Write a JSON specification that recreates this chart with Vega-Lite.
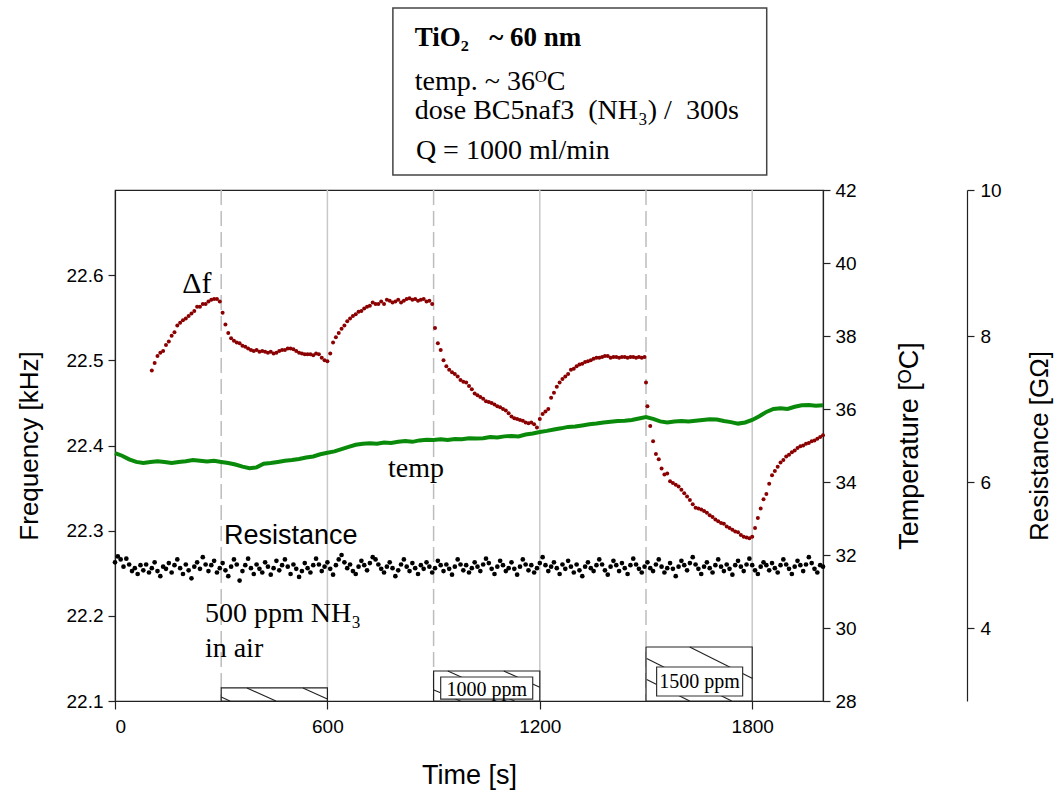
{
"$schema": "https://vega.github.io/schema/vega-lite/v6.json",
"width": 708, "height": 511,
"autosize": {"type": "none"},
"padding": {"left": 115, "top": 190, "right": 237, "bottom": 90},
"background": "white",
"config": {
  "view": {"stroke": "#222", "strokeWidth": 1.2},
  "axis": {"grid": false, "domainColor": "#222", "tickColor": "#222", "labelColor": "#000", "titleColor": "#000", "labelFont": "Liberation Sans", "titleFont": "Liberation Sans", "labelFontSize": 19, "titleFontSize": 26, "titleFontWeight": "normal", "tickSize": 7, "domainWidth": 1.2, "tickWidth": 1.2}
},
"datasets": {
  "gridSolid": [{"t": 600}, {"t": 1200}, {"t": 1800}],
  "gridDash": [{"t": 300}, {"t": 900}, {"t": 1500}],
  "boxes": [{"t": 300, "t2": 600, "f": 22.1, "f2": 22.1153}, {"t": 900, "t2": 1200, "f": 22.1, "f2": 22.1352}, {"t": 1500, "t2": 1800, "f": 22.1, "f2": 22.1634}],
  "hatch": [
    {"t": 300, "f": 22.1047, "t2": 324.7, "f2": 22.1}, {"t": 372.7, "f": 22.1153, "t2": 454.6, "f2": 22.1}, {"t": 530.8, "f": 22.1153, "t2": 600, "f2": 22.1023},
    {"t": 900.6, "f": 22.113, "t2": 976, "f2": 22.1}, {"t": 940.2, "f": 22.1352, "t2": 1128.5, "f2": 22.1}, {"t": 1098.3, "f": 22.1352, "t2": 1200, "f2": 22.1162},
    {"t": 1502, "f": 22.1252, "t2": 1623.4, "f2": 22.1}, {"t": 1502, "f": 22.1499, "t2": 1742, "f2": 22.1}, {"t": 1623.4, "f": 22.1634, "t2": 1801, "f2": 22.1264}
  ],
  "labelBoxes": [{"t": 920, "t2": 1180, "f": 22.1023, "f2": 22.1282}, {"t": 1530, "t2": 1773, "f": 22.1059, "f2": 22.1399}],
  "labelTexts": [{"t": 1050, "f": 22.1059, "txt": "1000 ppm"}, {"t": 1651, "f": 22.1153, "txt": "1500 ppm"}],
  "deltaNote": [{"t": 190, "f": 22.579, "txt": "Δf"}],
  "serifNotes": [{"t": 771, "f": 22.363, "txt": "temp"}, {"t": 254, "f": 22.1928, "txt": "500 ppm NH₃"}, {"t": 254, "f": 22.1517, "txt": "in air"}],
  "sansNotes": [{"t": 308, "f": 22.2843, "txt": "Resistance"}],
  "topBox": [{"t": 785, "t2": 1841, "f": 22.7176, "f2": 22.9137}],
  "topBold": [{"t": 847, "f": 22.869, "txt": "TiO₂\u00a0\u00a0\u00a0~ 60 nm"}],
  "topText": [{"t": 847, "f": 22.8174, "txt": "temp. ~ 36ᴼC"}, {"t": 847, "f": 22.7833, "txt": "dose BC5naf3\u00a0\u00a0(NH₃) /\u00a0\u00a0300s"}, {"t": 850, "f": 22.7364, "txt": "Q = 1000 ml/min"}],
  "df": [
    {"t":104,"f":22.488},{"t":112,"f":22.497},{"t":120,"f":22.505},{"t":128,"f":22.509},{"t":136,"f":22.511},{"t":144,"f":22.518},{"t":152,"f":22.522},{"t":160,"f":22.529},{"t":168,"f":22.533},{"t":176,"f":22.541},{"t":184,"f":22.544},{"t":192,"f":22.547},{"t":200,"f":22.549},{"t":208,"f":22.552},{"t":216,"f":22.555},{"t":224,"f":22.558},{"t":232,"f":22.563},{"t":240,"f":22.563},{"t":248,"f":22.566},{"t":256,"f":22.566},{"t":264,"f":22.569},{"t":272,"f":22.571},{"t":280,"f":22.572},{"t":288,"f":22.572},{"t":296,"f":22.569},
    {"t":304,"f":22.556},{"t":312,"f":22.542},{"t":320,"f":22.532},{"t":328,"f":22.526},{"t":336,"f":22.523},{"t":344,"f":22.521},{"t":352,"f":22.52},{"t":360,"f":22.517},{"t":368,"f":22.516},{"t":376,"f":22.514},{"t":384,"f":22.512},{"t":392,"f":22.511},{"t":400,"f":22.512},{"t":408,"f":22.51},{"t":416,"f":22.511},{"t":424,"f":22.51},{"t":432,"f":22.509},{"t":440,"f":22.51},{"t":448,"f":22.508},{"t":456,"f":22.509},{"t":464,"f":22.511},{"t":472,"f":22.512},{"t":480,"f":22.512},{"t":488,"f":22.514},{"t":496,"f":22.514},{"t":504,"f":22.513},{"t":512,"f":22.511},{"t":520,"f":22.509},{"t":528,"f":22.508},{"t":536,"f":22.507},{"t":544,"f":22.507},{"t":552,"f":22.507},{"t":560,"f":22.506},{"t":568,"f":22.508},{"t":576,"f":22.507},{"t":584,"f":22.503},{"t":592,"f":22.5},{"t":600,"f":22.499},
    {"t":608,"f":22.508},{"t":616,"f":22.521},{"t":624,"f":22.527},{"t":632,"f":22.532},{"t":640,"f":22.537},{"t":648,"f":22.541},{"t":656,"f":22.546},{"t":664,"f":22.549},{"t":672,"f":22.552},{"t":680,"f":22.554},{"t":688,"f":22.557},{"t":696,"f":22.558},{"t":704,"f":22.561},{"t":712,"f":22.563},{"t":720,"f":22.564},{"t":728,"f":22.568},{"t":736,"f":22.566},{"t":744,"f":22.566},{"t":752,"f":22.569},{"t":760,"f":22.566},{"t":768,"f":22.571},{"t":776,"f":22.57},{"t":784,"f":22.568},{"t":792,"f":22.569},{"t":800,"f":22.571},{"t":808,"f":22.568},{"t":816,"f":22.57},{"t":824,"f":22.572},{"t":832,"f":22.573},{"t":840,"f":22.571},{"t":848,"f":22.572},{"t":856,"f":22.57},{"t":864,"f":22.571},{"t":872,"f":22.572},{"t":880,"f":22.569},{"t":888,"f":22.57},{"t":896,"f":22.566},
    {"t":904,"f":22.538},{"t":912,"f":22.52},{"t":920,"f":22.512},{"t":928,"f":22.5},{"t":936,"f":22.493},{"t":944,"f":22.489},{"t":952,"f":22.486},{"t":960,"f":22.484},{"t":968,"f":22.481},{"t":976,"f":22.477},{"t":984,"f":22.475},{"t":992,"f":22.474},{"t":1000,"f":22.47},{"t":1008,"f":22.466},{"t":1016,"f":22.461},{"t":1024,"f":22.459},{"t":1032,"f":22.457},{"t":1040,"f":22.455},{"t":1048,"f":22.452},{"t":1056,"f":22.451},{"t":1064,"f":22.45},{"t":1072,"f":22.448},{"t":1080,"f":22.446},{"t":1088,"f":22.445},{"t":1096,"f":22.443},{"t":1104,"f":22.441},{"t":1112,"f":22.438},{"t":1120,"f":22.434},{"t":1128,"f":22.432},{"t":1136,"f":22.431},{"t":1144,"f":22.43},{"t":1152,"f":22.429},{"t":1160,"f":22.427},{"t":1168,"f":22.426},{"t":1176,"f":22.427},{"t":1184,"f":22.425},{"t":1192,"f":22.421},
    {"t":1200,"f":22.431},{"t":1208,"f":22.437},{"t":1216,"f":22.44},{"t":1224,"f":22.443},{"t":1232,"f":22.456},{"t":1240,"f":22.462},{"t":1248,"f":22.469},{"t":1256,"f":22.474},{"t":1264,"f":22.478},{"t":1272,"f":22.481},{"t":1280,"f":22.484},{"t":1288,"f":22.489},{"t":1296,"f":22.49},{"t":1304,"f":22.493},{"t":1312,"f":22.495},{"t":1320,"f":22.496},{"t":1328,"f":22.498},{"t":1336,"f":22.499},{"t":1344,"f":22.5},{"t":1352,"f":22.502},{"t":1360,"f":22.503},{"t":1368,"f":22.503},{"t":1376,"f":22.504},{"t":1384,"f":22.505},{"t":1392,"f":22.505},{"t":1400,"f":22.503},{"t":1408,"f":22.504},{"t":1416,"f":22.504},{"t":1424,"f":22.503},{"t":1432,"f":22.504},{"t":1440,"f":22.504},{"t":1448,"f":22.503},{"t":1456,"f":22.504},{"t":1464,"f":22.504},{"t":1472,"f":22.503},{"t":1480,"f":22.504},{"t":1488,"f":22.503},{"t":1496,"f":22.504},
    {"t":1500,"f":22.474},{"t":1504,"f":22.446},{"t":1512,"f":22.423},{"t":1520,"f":22.405},{"t":1528,"f":22.39},{"t":1536,"f":22.384},{"t":1544,"f":22.373},{"t":1552,"f":22.366},{"t":1560,"f":22.367},{"t":1568,"f":22.358},{"t":1576,"f":22.356},{"t":1584,"f":22.354},{"t":1592,"f":22.352},{"t":1600,"f":22.348},{"t":1608,"f":22.344},{"t":1616,"f":22.34},{"t":1624,"f":22.336},{"t":1632,"f":22.331},{"t":1640,"f":22.327},{"t":1648,"f":22.326},{"t":1656,"f":22.325},{"t":1664,"f":22.323},{"t":1672,"f":22.321},{"t":1680,"f":22.318},{"t":1688,"f":22.316},{"t":1696,"f":22.313},{"t":1704,"f":22.311},{"t":1712,"f":22.309},{"t":1720,"f":22.308},{"t":1728,"f":22.305},{"t":1736,"f":22.303},{"t":1744,"f":22.301},{"t":1752,"f":22.299},{"t":1760,"f":22.298},{"t":1768,"f":22.295},{"t":1776,"f":22.293},{"t":1784,"f":22.292},{"t":1792,"f":22.291},{"t":1800,"f":22.293},
    {"t":1808,"f":22.303},{"t":1816,"f":22.315},{"t":1824,"f":22.326},{"t":1832,"f":22.337},{"t":1840,"f":22.343},{"t":1848,"f":22.355},{"t":1856,"f":22.365},{"t":1864,"f":22.37},{"t":1872,"f":22.375},{"t":1880,"f":22.38},{"t":1888,"f":22.383},{"t":1896,"f":22.387},{"t":1904,"f":22.389},{"t":1912,"f":22.392},{"t":1920,"f":22.394},{"t":1928,"f":22.397},{"t":1936,"f":22.399},{"t":1944,"f":22.4},{"t":1952,"f":22.402},{"t":1960,"f":22.403},{"t":1968,"f":22.405},{"t":1976,"f":22.406},{"t":1984,"f":22.408},{"t":1992,"f":22.41},{"t":2000,"f":22.412}
  ],
  "temp": [
    {"t":0,"T":34.79},{"t":20,"T":34.72},{"t":40,"T":34.62},{"t":60,"T":34.55},{"t":80,"T":34.52},{"t":100,"T":34.55},{"t":120,"T":34.57},{"t":140,"T":34.55},{"t":160,"T":34.52},{"t":180,"T":34.55},{"t":200,"T":34.57},{"t":220,"T":34.6},{"t":240,"T":34.58},{"t":260,"T":34.56},{"t":280,"T":34.58},{"t":300,"T":34.55},{"t":320,"T":34.52},{"t":340,"T":34.48},{"t":360,"T":34.42},{"t":380,"T":34.38},{"t":400,"T":34.4},{"t":420,"T":34.5},{"t":440,"T":34.52},{"t":460,"T":34.55},{"t":480,"T":34.58},{"t":500,"T":34.6},{"t":520,"T":34.63},{"t":540,"T":34.67},{"t":560,"T":34.7},{"t":580,"T":34.76},{"t":600,"T":34.8},{"t":620,"T":34.84},{"t":640,"T":34.9},{"t":660,"T":34.96},{"t":680,"T":35.02},{"t":700,"T":35.05},{"t":720,"T":35.06},{"t":740,"T":35.05},{"t":760,"T":35.08},{"t":780,"T":35.07},{"t":800,"T":35.1},{"t":820,"T":35.12},{"t":840,"T":35.1},{"t":860,"T":35.14},{"t":880,"T":35.16},{"t":900,"T":35.15},{"t":920,"T":35.17},{"t":940,"T":35.15},{"t":960,"T":35.18},{"t":980,"T":35.17},{"t":1000,"T":35.2},{"t":1020,"T":35.19},{"t":1040,"T":35.2},{"t":1060,"T":35.23},{"t":1080,"T":35.22},{"t":1100,"T":35.25},{"t":1120,"T":35.26},{"t":1140,"T":35.25},{"t":1160,"T":35.3},{"t":1180,"T":35.33},{"t":1200,"T":35.37},{"t":1220,"T":35.4},{"t":1240,"T":35.44},{"t":1260,"T":35.47},{"t":1280,"T":35.51},{"t":1300,"T":35.52},{"t":1320,"T":35.55},{"t":1340,"T":35.58},{"t":1360,"T":35.6},{"t":1380,"T":35.63},{"t":1400,"T":35.65},{"t":1420,"T":35.67},{"t":1440,"T":35.68},{"t":1460,"T":35.7},{"t":1480,"T":35.74},{"t":1500,"T":35.78},{"t":1520,"T":35.73},{"t":1540,"T":35.66},{"t":1560,"T":35.63},{"t":1580,"T":35.66},{"t":1600,"T":35.67},{"t":1620,"T":35.66},{"t":1640,"T":35.68},{"t":1660,"T":35.7},{"t":1680,"T":35.72},{"t":1700,"T":35.71},{"t":1720,"T":35.67},{"t":1740,"T":35.64},{"t":1760,"T":35.6},{"t":1780,"T":35.63},{"t":1800,"T":35.7},{"t":1820,"T":35.8},{"t":1840,"T":35.92},{"t":1860,"T":36.0},{"t":1880,"T":36.02},{"t":1900,"T":36.0},{"t":1920,"T":36.06},{"t":1940,"T":36.1},{"t":1960,"T":36.11},{"t":1980,"T":36.09},{"t":2000,"T":36.1}
  ],
  "res": [
    {"t":0,"r":4.90},{"t":8,"r":4.98},{"t":16,"r":4.94},{"t":24,"r":4.84},{"t":32,"r":4.95},{"t":40,"r":4.87},{"t":48,"r":4.78},{"t":56,"r":4.82},{"t":64,"r":4.74},{"t":72,"r":4.86},
    {"t":80,"r":4.79},{"t":88,"r":4.87},{"t":96,"r":4.76},{"t":104,"r":4.82},{"t":112,"r":4.90},{"t":120,"r":4.78},{"t":128,"r":4.71},{"t":136,"r":4.84},{"t":144,"r":4.81},{"t":152,"r":4.89},
    {"t":160,"r":4.76},{"t":168,"r":4.86},{"t":176,"r":4.94},{"t":184,"r":4.82},{"t":192,"r":4.74},{"t":200,"r":4.87},{"t":208,"r":4.79},{"t":216,"r":4.68},{"t":224,"r":4.84},{"t":232,"r":4.90},
    {"t":240,"r":4.81},{"t":248,"r":4.97},{"t":256,"r":4.87},{"t":264,"r":4.78},{"t":272,"r":4.86},{"t":280,"r":4.92},{"t":288,"r":4.76},{"t":296,"r":4.82},{"t":304,"r":4.89},{"t":312,"r":4.79},
    {"t":320,"r":4.71},{"t":328,"r":4.84},{"t":336,"r":4.94},{"t":344,"r":4.87},{"t":352,"r":4.65},{"t":360,"r":4.78},{"t":368,"r":4.86},{"t":376,"r":4.95},{"t":384,"r":4.82},{"t":392,"r":4.74},
    {"t":400,"r":4.87},{"t":408,"r":4.81},{"t":416,"r":4.76},{"t":424,"r":4.90},{"t":432,"r":4.84},{"t":440,"r":4.73},{"t":448,"r":4.82},{"t":456,"r":4.92},{"t":464,"r":4.79},{"t":472,"r":4.86},
    {"t":480,"r":4.94},{"t":488,"r":4.84},{"t":496,"r":4.74},{"t":504,"r":4.87},{"t":512,"r":4.81},{"t":520,"r":4.70},{"t":528,"r":4.78},{"t":536,"r":4.89},{"t":544,"r":4.82},{"t":552,"r":4.76},
    {"t":560,"r":4.86},{"t":568,"r":4.95},{"t":576,"r":4.87},{"t":584,"r":4.78},{"t":592,"r":4.84},{"t":600,"r":4.90},{"t":608,"r":4.81},{"t":616,"r":4.73},{"t":624,"r":4.86},{"t":632,"r":4.94},
    {"t":640,"r":5.0},{"t":648,"r":4.90},{"t":656,"r":4.82},{"t":664,"r":4.87},{"t":672,"r":4.78},{"t":680,"r":4.74},{"t":688,"r":4.84},{"t":696,"r":4.92},{"t":704,"r":4.86},{"t":712,"r":4.79},
    {"t":720,"r":4.89},{"t":728,"r":4.97},{"t":736,"r":4.94},{"t":744,"r":4.87},{"t":752,"r":4.81},{"t":760,"r":4.76},{"t":768,"r":4.84},{"t":776,"r":4.90},{"t":784,"r":4.82},{"t":792,"r":4.71},
    {"t":800,"r":4.79},{"t":808,"r":4.87},{"t":816,"r":4.94},{"t":824,"r":4.84},{"t":832,"r":4.78},{"t":840,"r":4.89},{"t":848,"r":4.82},{"t":856,"r":4.74},{"t":864,"r":4.86},{"t":872,"r":4.81},
    {"t":880,"r":4.90},{"t":888,"r":4.84},{"t":896,"r":4.76},{"t":904,"r":4.82},{"t":912,"r":4.92},{"t":920,"r":4.86},{"t":928,"r":4.78},{"t":936,"r":4.87},{"t":944,"r":4.81},{"t":952,"r":4.73},
    {"t":960,"r":4.84},{"t":968,"r":4.94},{"t":976,"r":4.87},{"t":984,"r":4.79},{"t":992,"r":4.86},{"t":1000,"r":4.76},{"t":1008,"r":4.82},{"t":1016,"r":4.90},{"t":1024,"r":4.84},{"t":1032,"r":4.78},
    {"t":1040,"r":4.87},{"t":1048,"r":4.95},{"t":1056,"r":4.89},{"t":1064,"r":4.81},{"t":1072,"r":4.74},{"t":1080,"r":4.84},{"t":1088,"r":4.92},{"t":1096,"r":4.86},{"t":1104,"r":4.78},{"t":1112,"r":4.82},
    {"t":1120,"r":4.90},{"t":1128,"r":4.81},{"t":1136,"r":4.73},{"t":1144,"r":4.84},{"t":1152,"r":4.94},{"t":1160,"r":4.87},{"t":1168,"r":4.79},{"t":1176,"r":4.86},{"t":1184,"r":4.76},{"t":1192,"r":4.82},
    {"t":1200,"r":4.89},{"t":1208,"r":4.97},{"t":1216,"r":4.86},{"t":1224,"r":4.78},{"t":1232,"r":4.84},{"t":1240,"r":4.90},{"t":1248,"r":4.82},{"t":1256,"r":4.74},{"t":1264,"r":4.87},{"t":1272,"r":4.81},
    {"t":1280,"r":4.92},{"t":1288,"r":4.84},{"t":1296,"r":4.76},{"t":1304,"r":4.87},{"t":1312,"r":4.79},{"t":1320,"r":4.71},{"t":1328,"r":4.84},{"t":1336,"r":4.90},{"t":1344,"r":4.82},{"t":1352,"r":4.78},
    {"t":1360,"r":4.86},{"t":1368,"r":4.94},{"t":1376,"r":4.87},{"t":1384,"r":4.79},{"t":1392,"r":4.73},{"t":1400,"r":4.84},{"t":1408,"r":4.92},{"t":1416,"r":4.86},{"t":1424,"r":4.78},{"t":1432,"r":4.89},
    {"t":1440,"r":4.82},{"t":1448,"r":4.74},{"t":1456,"r":4.86},{"t":1464,"r":4.95},{"t":1472,"r":4.87},{"t":1480,"r":4.81},{"t":1488,"r":4.76},{"t":1496,"r":4.84},{"t":1504,"r":4.90},{"t":1512,"r":4.82},
    {"t":1520,"r":4.78},{"t":1528,"r":4.87},{"t":1536,"r":4.94},{"t":1544,"r":4.84},{"t":1552,"r":4.76},{"t":1560,"r":4.82},{"t":1568,"r":4.89},{"t":1576,"r":4.81},{"t":1584,"r":4.71},{"t":1592,"r":4.84},
    {"t":1600,"r":4.92},{"t":1608,"r":4.86},{"t":1616,"r":4.79},{"t":1624,"r":4.89},{"t":1632,"r":4.97},{"t":1640,"r":4.87},{"t":1648,"r":4.81},{"t":1656,"r":4.74},{"t":1664,"r":4.84},{"t":1672,"r":4.90},
    {"t":1680,"r":4.82},{"t":1688,"r":4.76},{"t":1696,"r":4.86},{"t":1704,"r":4.94},{"t":1712,"r":4.84},{"t":1720,"r":4.78},{"t":1728,"r":4.87},{"t":1736,"r":4.81},{"t":1744,"r":4.73},{"t":1752,"r":4.86},
    {"t":1760,"r":4.92},{"t":1768,"r":4.84},{"t":1776,"r":4.78},{"t":1784,"r":4.87},{"t":1792,"r":4.95},{"t":1800,"r":4.86},{"t":1808,"r":4.79},{"t":1816,"r":4.74},{"t":1824,"r":4.84},{"t":1832,"r":4.90},
    {"t":1840,"r":4.86},{"t":1848,"r":4.79},{"t":1856,"r":4.89},{"t":1864,"r":4.82},{"t":1872,"r":4.76},{"t":1880,"r":4.86},{"t":1888,"r":4.94},{"t":1896,"r":4.87},{"t":1904,"r":4.81},{"t":1912,"r":4.74},
    {"t":1920,"r":4.84},{"t":1928,"r":4.92},{"t":1936,"r":4.86},{"t":1944,"r":4.78},{"t":1952,"r":4.87},{"t":1960,"r":4.97},{"t":1968,"r":4.89},{"t":1976,"r":4.81},{"t":1984,"r":4.76},{"t":1992,"r":4.86},{"t":2000,"r":4.84}
  ]
},
"encoding": {
  "x": {"field": "t", "type": "quantitative", "scale": {"domain": [0, 2000], "nice": false, "zero": false}, "axis": {"values": [0, 600, 1200, 1800], "format": "d", "title": "Time [s]", "titleFontSize": 27, "tickSize": 8, "labelPadding": 8, "titlePadding": 26}}
},
"layer": [
  {"data": {"name": "gridSolid"}, "mark": {"type": "rule", "color": "#c8c8c8", "strokeWidth": 1.5}, "encoding": {}},
  {"data": {"name": "gridDash"}, "mark": {"type": "rule", "color": "#bdbdbd", "strokeWidth": 1.5, "strokeDash": [15, 6]}, "encoding": {}},
  {"data": {"name": "temp"}, "mark": {"type": "line", "color": "#0a8a0a", "strokeWidth": 4},
   "encoding": {"y": {"field": "T", "type": "quantitative", "scale": {"domain": [28, 42], "nice": false, "zero": false},
     "axis": {"orient": "right", "values": [28, 30, 32, 34, 36, 38, 40, 42], "title": "Temperature [ᴼC]", "titleFontSize": 27, "titleAngle": 270, "titleBaseline": "top", "labelPadding": 5, "titlePadding": 40}}}},
  {"data": {"name": "res"}, "mark": {"type": "point", "filled": true, "color": "black", "size": 22, "opacity": 1},
   "encoding": {"y": {"field": "r", "type": "quantitative", "scale": {"domain": [3, 10], "nice": false, "zero": false},
     "axis": {"orient": "right", "offset": 144, "values": [4, 6, 8, 10], "title": "Resistance [GΩ]", "titleAngle": 270, "titleBaseline": "top", "labelPadding": 6, "titlePadding": 25}}}},
  {
   "encoding": {"y": {"field": "f", "type": "quantitative", "scale": {"domain": [22.1, 22.7], "nice": false, "zero": false},
     "axis": {"values": [22.1, 22.2, 22.3, 22.4, 22.5, 22.6], "format": ".1f", "title": "Frequency [kHz]", "labelPadding": 5, "titlePadding": 24}}},
   "layer": [
     {"data": {"name": "boxes"}, "mark": {"type": "rect", "fill": "white", "stroke": "#222", "strokeWidth": 1.2}, "encoding": {"x2": {"field": "t2"}, "y2": {"field": "f2"}}},
     {"data": {"name": "hatch"}, "mark": {"type": "rule", "color": "#222", "strokeWidth": 1.1}, "encoding": {"x2": {"field": "t2"}, "y2": {"field": "f2"}}},
     {"data": {"name": "labelBoxes"}, "mark": {"type": "rect", "fill": "white", "stroke": "#333", "strokeWidth": 1.2}, "encoding": {"x2": {"field": "t2"}, "y2": {"field": "f2"}}},
     {"data": {"name": "labelTexts"}, "mark": {"type": "text", "font": "Liberation Serif", "fontSize": 20, "align": "center", "baseline": "alphabetic", "color": "black"}, "encoding": {"text": {"field": "txt"}}},
     {"data": {"name": "df"}, "mark": {"type": "point", "filled": true, "color": "#8b0000", "size": 16, "opacity": 1}},
     {"data": {"name": "deltaNote"}, "mark": {"type": "text", "font": "Liberation Serif", "fontSize": 30, "align": "left", "baseline": "alphabetic", "color": "black"}, "encoding": {"text": {"field": "txt"}}},
     {"data": {"name": "serifNotes"}, "mark": {"type": "text", "font": "Liberation Serif", "fontSize": 28, "align": "left", "baseline": "alphabetic", "color": "black"}, "encoding": {"text": {"field": "txt"}}},
     {"data": {"name": "sansNotes"}, "mark": {"type": "text", "font": "Liberation Sans", "fontSize": 27, "align": "left", "baseline": "alphabetic", "color": "black"}, "encoding": {"text": {"field": "txt"}}},
     {"data": {"name": "topBox"}, "mark": {"type": "rect", "fill": "white", "stroke": "#444", "strokeWidth": 1.5}, "encoding": {"x2": {"field": "t2"}, "y2": {"field": "f2"}}},
     {"data": {"name": "topBold"}, "mark": {"type": "text", "font": "Liberation Serif", "fontSize": 27, "fontWeight": "bold", "align": "left", "baseline": "alphabetic", "color": "black"}, "encoding": {"text": {"field": "txt"}}},
     {"data": {"name": "topText"}, "mark": {"type": "text", "font": "Liberation Serif", "fontSize": 28, "align": "left", "baseline": "alphabetic", "color": "black"}, "encoding": {"text": {"field": "txt"}}}
   ]
  }
],
"resolve": {"scale": {"y": "independent"}, "axis": {"y": "independent"}}
}
